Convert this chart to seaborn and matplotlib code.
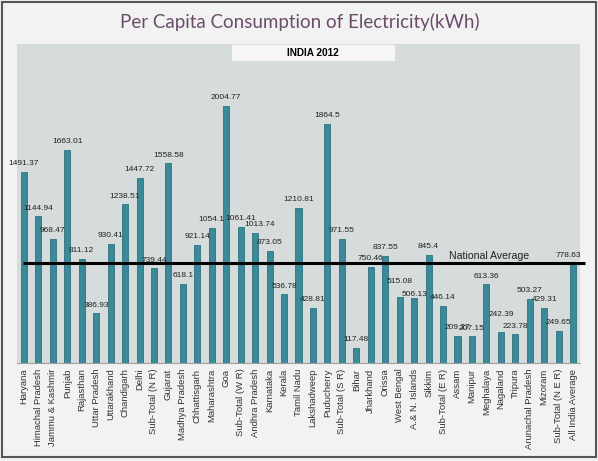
import matplotlib
matplotlib.use("Agg")
import matplotlib.pyplot as plt
import matplotlib.patches as patches
import seaborn as sns
import pandas as pd

sns.set_style("white")
plt.rcParams["font.family"] = ["Liberation Sans", "DejaVu Sans"]

# Дані: регіони та споживання на душу населення (кВт·год)
states = [
    "Haryana", "Himachal Pradesh", "Jammu & Kashmir", "Punjab", "Rajasthan",
    "Uttar Pradesh", "Uttarakhand", "Chandigarh", "Delhi", "Sub-Total (N R)",
    "Gujarat", "Madhya Pradesh", "Chhattisgarh", "Maharashtra", "Goa",
    "Sub-Total (W R)", "Andhra Pradesh", "Karnataka", "Kerala", "Tamil Nadu",
    "Lakshadweep", "Puducherry", "Sub-Total (S R)", "Bihar", "Jharkhand",
    "Orissa", "West Bengal", "A.& N. Islands", "Sikkim", "Sub-Total (E R)",
    "Assam", "Manipur", "Meghalaya", "Nagaland", "Tripura",
    "Arunachal Pradesh", "Mizoram", "Sub-Total (N E R)", "All India Average",
]
consumption = [
    1491.37, 1144.94, 968.47, 1663.01, 811.12,
    386.93, 930.41, 1238.51, 1447.72, 739.44,
    1558.58, 618.1, 921.14, 1054.1, 2004.77,
    1061.41, 1013.74, 873.05, 536.78, 1210.81,
    428.81, 1864.5, 971.55, 117.48, 750.46,
    837.55, 515.08, 506.13, 845.4, 446.14,
    209.27, 207.15, 613.36, 242.39, 223.78,
    503.27, 429.31, 249.65, 778.63,
]
labels = [
    "1491.37", "1144.94", "968.47", "1663.01", "811.12",
    "386.93", "930.41", "1238.51", "1447.72", "739.44",
    "1558.58", "618.1", "921.14", "1054.1", "2004.77",
    "1061.41", "1013.74", "873.05", "536.78", "1210.81",
    "428.81", "1864.5", "971.55", "117.48", "750.46",
    "837.55", "515.08", "506.13", "845.4", "446.14",
    "209.27", "207.15", "613.36", "242.39", "223.78",
    "503.27", "429.31", "249.65", "778.63",
]
national_average = 778.63

df = pd.DataFrame({"state": states, "kwh": consumption})

fig = plt.figure(figsize=(5.98, 4.61), dpi=100)
fig.patch.set_facecolor("#f2f2f2")
ax = fig.add_axes([0.0284, 0.2126, 0.9416, 0.692])
ax.set_facecolor("#d6dbdc")

sns.barplot(data=df, x="state", y="kwh", color="#3b8a9a", saturation=1,
            width=0.42, edgecolor="#2e7281", linewidth=0.6, ax=ax)

# Підписи значень над стовпцями (деякі зсунуті, як в оригіналі)
nudge = {16: (0.28, 0.0), 26: (0.0, 55), 27: (0.0, -33),
         33: (0.0, 75), 38: (-0.3, 0.0)}
for i, (v, txt) in enumerate(zip(consumption, labels)):
    dx, dy = nudge.get(i, (0.0, 0.0))
    ax.text(i + dx, v + 64 + dy, txt, ha="center", va="center", fontsize=6,
            color="#222222")

# Лінія середнього по країні
ax.hlines(national_average, -0.07, 38.8, color="black", linewidth=2.2,
          clip_on=False, zorder=5)
ax.text(29.4, national_average + 15, "National Average", ha="left",
        va="bottom", fontsize=7.6, color="#222222")

ax.set_xlim(-0.48, 38.48)
ax.set_ylim(0, 2490)
ax.set_xlabel("")
ax.set_ylabel("")
ax.set_yticks([])
ax.tick_params(axis="x", length=2, color="#999999", pad=2)
plt.setp(ax.get_xticklabels(), rotation=90, fontsize=6.8, color="#333333")
for s in ["left", "top", "right"]:
    ax.spines[s].set_visible(False)
ax.spines["bottom"].set_color("#a0a0a0")

# Заголовок та підзаголовок
fig.text(0.502, 0.952, "Per Capita Consumption of Electricity(kWh)",
         ha="center", va="center", fontsize=13.5, color="#6b4d6b",
         family="Lato")
fig.patches.append(patches.Rectangle((0.388, 0.868), 0.2726, 0.0347,
                                     transform=fig.transFigure,
                                     facecolor="#f6f6f6", edgecolor="none",
                                     zorder=3))
fig.text(0.524, 0.886, "INDIA 2012", ha="center", va="center",
         fontsize=7.2, fontweight="bold", color="black", zorder=4)

# Рамка навколо картинки
fig.patches.append(patches.Rectangle((0.003, 0.008), 0.994, 0.988,
                                     transform=fig.transFigure, fill=False,
                                     edgecolor="#555555", linewidth=1.5))

fig.savefig("out.png", dpi=100, facecolor=fig.get_facecolor())
